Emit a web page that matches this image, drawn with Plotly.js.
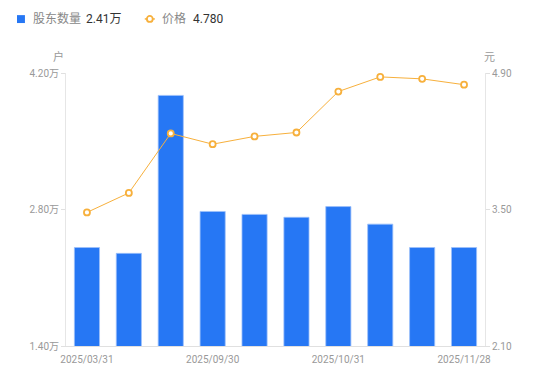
<!DOCTYPE html>
<html>
<head>
<meta charset="utf-8">
<script src="https://cdn.plot.ly/plotly-3.0.1.min.js"></script>
<style>
html,body{margin:0;padding:0;background:#fff;}
#chart{width:550px;height:381px;}
</style>
</head>
<body>
<div id="chart"></div>
<script>
var dates = ['2025/03/31','2025/06/30','2025/08/31','2025/09/30','2025/10/10','2025/10/20','2025/10/31','2025/11/10','2025/11/20','2025/11/28'];
var holders = [2.41, 2.35, 3.97, 2.78, 2.75, 2.72, 2.83, 2.65, 2.41, 2.41]; // 万户
var prices = [3.47, 3.67, 4.28, 4.17, 4.25, 4.29, 4.71, 4.86, 4.84, 4.78]; // 元
var leftTicks = [1.40, 2.80, 4.20];
var rightTicks = [2.10, 3.50, 4.90];
var xTickIdx = [0, 3, 6, 9];

var FONT = 'Roboto, "Noto Sans CJK SC", sans-serif';
var BLUE = '#2677F4';
var ORANGE = '#F7B03C';

var barTrace = {
  type: 'bar', x: dates, y: holders, name: '股东数量',
  marker: {color: BLUE, line: {color: '#9DC0FA', width: 0.8}},
  width: 0.6, yaxis: 'y', hoverinfo: 'x+y'
};
var lineTrace = {
  type: 'scatter', mode: 'lines+markers', x: dates, y: prices, name: '价格',
  line: {color: ORANGE, width: 1},
  marker: {symbol: 'circle', size: 6, color: '#fff', line: {color: ORANGE, width: 1.8}},
  yaxis: 'y2', cliponaxis: false
};

var layout = {
  width: 550, height: 381,
  margin: {l: 66, r: 65, t: 73, b: 35},
  paper_bgcolor: '#fff', plot_bgcolor: '#fff',
  showlegend: false,
  bargap: 0.4,
  font: {family: FONT, size: 10, color: '#999'},
  xaxis: {
    type: 'category',
    tickmode: 'array',
    tickvals: xTickIdx.map(function(i){return dates[i];}),
    ticktext: xTickIdx.map(function(i){return dates[i];}),
    showgrid: false, zeroline: false,
    showline: true, linecolor: '#e0e0e0', linewidth: 1,
    ticks: 'outside', ticklen: 4, tickcolor: 'rgba(0,0,0,0)',
    tickfont: {size: 10, color: '#999'},
    range: [-0.5, dates.length - 0.5]
  },
  yaxis: {
    range: [leftTicks[0], leftTicks[2]],
    tickmode: 'array', tickvals: leftTicks,
    ticktext: leftTicks.map(function(v){return v.toFixed(2) + '万';}),
    showgrid: false, zeroline: false,
    showline: true, linecolor: '#e6e6e6', linewidth: 1,
    ticks: 'outside', ticklen: 4, tickcolor: '#e0e0e0', tickwidth: 1,
    tickfont: {size: 10, color: '#999'}
  },
  yaxis2: {
    overlaying: 'y', side: 'right',
    range: [rightTicks[0], rightTicks[2]],
    tickmode: 'array', tickvals: rightTicks,
    ticktext: rightTicks.map(function(v){return v.toFixed(2);}),
    showgrid: false, zeroline: false,
    showline: true, linecolor: '#e6e6e6', linewidth: 1,
    ticks: 'outside', ticklen: 4, tickcolor: '#e0e0e0', tickwidth: 1,
    tickfont: {size: 10, color: '#999'}
  },
  shapes: [
    {type: 'rect', xref: 'paper', yref: 'paper', x0: -0.117, x1: -0.098, y0: 1.183, y1: 1.212,
     fillcolor: BLUE, line: {width: 0}},
    {type: 'line', xref: 'paper', yref: 'paper', x0: 0.188, x1: 0.212, y0: 1.198, y1: 1.198,
     line: {color: ORANGE, width: 1.5}}
  ],
  annotations: [
    {xref: 'paper', yref: 'paper', x: -0.083, y: 1.198, xanchor: 'left', yanchor: 'middle', showarrow: false,
     text: '股东数量', font: {family: FONT, size: 12, color: '#888'}},
    {xref: 'paper', yref: 'paper', x: 0.043, y: 1.198, xanchor: 'left', yanchor: 'middle', showarrow: false,
     text: holders[holders.length-1].toFixed(2) + '万', font: {family: FONT, size: 12, color: '#333'}},
    {xref: 'paper', yref: 'paper', x: 0.225, y: 1.198, xanchor: 'left', yanchor: 'middle', showarrow: false,
     text: '价格', font: {family: FONT, size: 12, color: '#888'}},
    {xref: 'paper', yref: 'paper', x: 0.298, y: 1.198, xanchor: 'left', yanchor: 'middle', showarrow: false,
     text: prices[prices.length-1].toFixed(3), font: {family: FONT, size: 12, color: '#333'}},
    {xref: 'paper', yref: 'paper', x: -0.019, y: 1.058, xanchor: 'center', yanchor: 'middle', showarrow: false,
     text: '户', font: {family: FONT, size: 11, color: '#999'}},
    {xref: 'paper', yref: 'paper', x: 1.01, y: 1.058, xanchor: 'center', yanchor: 'middle', showarrow: false,
     text: '元', font: {family: FONT, size: 11, color: '#999'}}
  ]
};

layout.shapes.push({type: 'circle', xref: 'paper', yref: 'paper', x0: 0.193, x1: 0.207, y0: 1.187, y1: 1.209,
  fillcolor: '#fff', line: {color: ORANGE, width: 1.8}});

Plotly.newPlot('chart', [barTrace, lineTrace], layout, {displayModeBar: false, staticPlot: true});
</script>
</body>
</html>
